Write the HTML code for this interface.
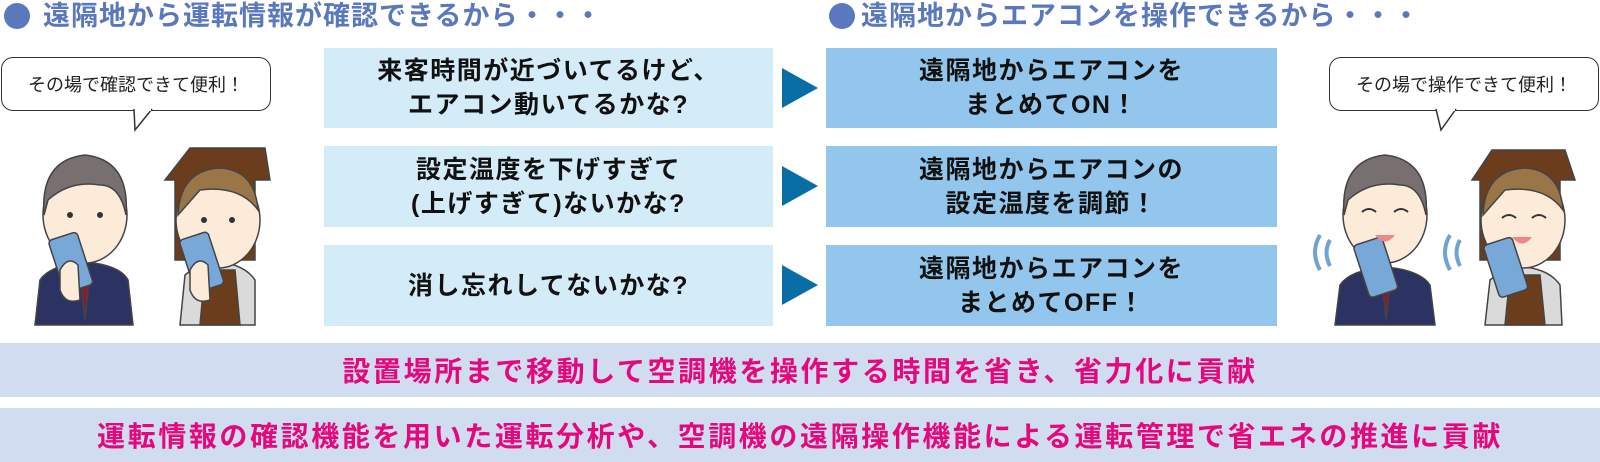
<!DOCTYPE html>
<html><head><meta charset="utf-8"><style>
body{margin:0;width:1600px;height:462px;background:#fff;position:relative;overflow:hidden;font-family:"Liberation Sans","Noto Sans CJK JP",sans-serif}
.a{position:absolute}
.h{font-size:27px;color:#5a78bd;font-weight:700;letter-spacing:1px;line-height:32px}
.dot{width:26px;height:26px;border-radius:50%;background:#5a78bd}
.q{background:#d4ebf8;display:flex;align-items:center;justify-content:center;text-align:center;font-size:25px;font-weight:700;line-height:34px;letter-spacing:1.5px;color:#111}
.r{background:#92c6ec}
.arr{width:0;height:0;border-top:20px solid transparent;border-bottom:20px solid transparent;border-left:36px solid #0a6ea6}
.bar{background:#d0dcef;left:0;width:1600px;display:flex;align-items:center;justify-content:center;font-size:28px;font-weight:700;color:#e5087c;letter-spacing:2.6px}
.bub{border:1.5px solid #333;border-radius:12px;background:#fff;font-size:18px;display:flex;align-items:center;justify-content:center;color:#222;box-sizing:border-box}
</style></head><body>
<div class="a dot" style="left:4px;top:3px"></div>
<div class="a h" style="left:43px;top:0">遠隔地から運転情報が確認できるから・・・</div>
<div class="a dot" style="left:829px;top:3px"></div>
<div class="a h" style="left:861px;top:0">遠隔地からエアコンを操作できるから・・・</div>

<div class="a q" style="left:324px;top:48px;width:449px;height:80px">来客時間が近づいてるけど、<br>エアコン動いてるかな?</div>
<div class="a q" style="left:324px;top:146px;width:449px;height:81px">設定温度を下げすぎて<br>(上げすぎて)ないかな?</div>
<div class="a q" style="left:324px;top:245px;width:449px;height:81px">消し忘れしてないかな?</div>
<div class="a arr" style="left:782px;top:68px"></div>
<div class="a arr" style="left:782px;top:166px"></div>
<div class="a arr" style="left:782px;top:265px"></div>
<div class="a q r" style="left:826px;top:48px;width:451px;height:80px">遠隔地からエアコンを<br>まとめてON！</div>
<div class="a q r" style="left:826px;top:146px;width:451px;height:81px">遠隔地からエアコンの<br>設定温度を調節！</div>
<div class="a q r" style="left:826px;top:245px;width:451px;height:81px">遠隔地からエアコンを<br>まとめてOFF！</div>

<div class="a bar" style="top:343px;height:54px">設置場所まで移動して空調機を操作する時間を省き、省力化に貢献</div>
<div class="a bar" style="top:408px;height:54px">運転情報の確認機能を用いた運転分析や、空調機の遠隔操作機能による運転管理で省エネの推進に貢献</div>

<div class="a bub" style="left:1px;top:57px;width:270px;height:54px">その場で確認できて便利！</div>
<svg class="a" style="left:130px;top:108px" width="30" height="25"><path d="M4 1 L5 22 L22 1" fill="#fff" stroke="#333" stroke-width="1.5"/><rect x="5" y="0" width="16" height="3" fill="#fff"/></svg>
<div class="a bub" style="left:1329px;top:57px;width:270px;height:54px">その場で操作できて便利！</div>
<svg class="a" style="left:1434px;top:108px" width="30" height="25"><path d="M2 1 L7 22 L22 1" fill="#fff" stroke="#333" stroke-width="1.5"/><rect x="3" y="0" width="18" height="3" fill="#fff"/></svg>

<svg class="a" style="left:0;top:140px" width="290" height="190">
<g stroke="#444" stroke-width="1.5">
<path d="M35 185 L40 140 Q50 125 85 122 Q120 125 128 140 L133 185Z" fill="#2c3262"/>
<path d="M80 130 L85 180 L90 130Z" fill="#8b1a2a"/>
<ellipse cx="85" cy="75" rx="42" ry="48" fill="#fdebd9"/>
<path d="M44 75 Q40 20 85 15 Q130 20 126 75 Q120 45 100 45 Q70 40 48 60Z" fill="#787070"/>
<rect x="55" y="95" width="30" height="55" rx="4" fill="#78a8d8" transform="rotate(-18 70 120)"/>
<path d="M60 130 Q68 115 78 125 L80 160 Q65 165 60 150Z" fill="#fdebd9"/>
<path d="M165 40 L190 8 L265 8 L270 40 L255 40 L255 120 L175 120 L175 40Z" fill="#6b3d1c"/>
<path d="M180 185 L185 135 Q200 122 220 122 Q245 125 255 140 L255 185Z" fill="#dadada"/>
<path d="M200 185 L205 130 L235 130 L240 185Z" fill="#6b3d1c"/>
<ellipse cx="218" cy="80" rx="42" ry="48" fill="#fdebd9"/>
<path d="M178 75 Q180 30 220 28 Q255 30 258 70 Q240 45 200 50Z" fill="#9a7548"/>
<rect x="186" y="95" width="30" height="55" rx="4" fill="#78a8d8" transform="rotate(-18 200 120)"/>
<path d="M190 130 Q198 115 208 125 L210 160 Q195 165 190 150Z" fill="#fdebd9"/>
</g>
<g fill="#333"><circle cx="70" cy="75" r="3"/><circle cx="100" cy="75" r="3"/><circle cx="204" cy="80" r="3"/><circle cx="232" cy="80" r="3"/></g>
</svg>

<svg class="a" style="left:1290px;top:140px" width="310" height="190">
<g stroke="#444" stroke-width="1.5">
<path d="M45 185 L50 145 Q60 130 95 127 Q130 130 140 145 L145 185Z" fill="#2c3262"/>
<path d="M92 135 L96 180 L101 135Z" fill="#8b1a2a"/>
<ellipse cx="95" cy="75" rx="42" ry="48" fill="#fdebd9"/>
<path d="M54 75 Q50 20 95 15 Q140 20 136 75 Q130 45 110 45 Q80 40 58 60Z" fill="#787070"/>
<rect x="70" y="100" width="30" height="55" rx="4" fill="#78a8d8" transform="rotate(-18 85 125)"/>
<path d="M182 40 L202 10 L275 10 L285 40 L270 40 L270 120 L190 120 L190 40Z" fill="#6b3d1c"/>
<path d="M195 185 L200 140 Q215 127 235 127 Q260 130 270 145 L272 185Z" fill="#dadada"/>
<path d="M215 185 L220 135 L250 135 L255 185Z" fill="#6b3d1c"/>
<ellipse cx="233" cy="80" rx="42" ry="48" fill="#fdebd9"/>
<path d="M193 75 Q195 30 235 28 Q270 30 273 70 Q255 45 215 50Z" fill="#9a7548"/>
<rect x="200" y="100" width="30" height="55" rx="4" fill="#78a8d8" transform="rotate(-18 215 125)"/>
</g>
<g fill="none" stroke="#333" stroke-width="2"><path d="M72 72 Q79 66 86 72"/><path d="M104 72 Q111 66 118 72"/><path d="M212 78 Q219 72 226 78"/><path d="M242 78 Q249 72 256 78"/></g>
<g fill="none" stroke="#6fa3d6" stroke-width="4"><path d="M30 130 Q20 112 30 95"/><path d="M40 126 Q33 112 40 100"/><path d="M160 130 Q150 112 160 95"/><path d="M170 126 Q163 112 170 100"/></g>
<path d="M85 95 Q95 108 105 95Z M222 97 Q232 110 242 97Z" fill="#e88"/>
</svg>
</body></html>
